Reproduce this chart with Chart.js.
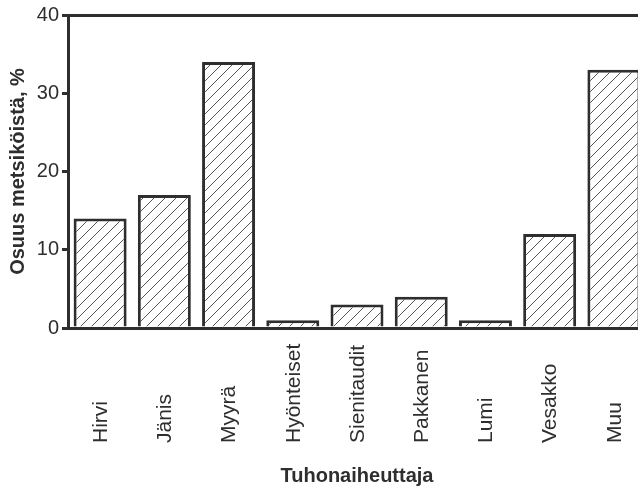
<!DOCTYPE html>
<html>
<head>
<meta charset="utf-8">
<script src="https://cdn.jsdelivr.net/npm/chart.js@4"></script>
<style>
html,body{margin:0;padding:0;background:#fff;overflow:hidden;width:638px;height:491px;}
canvas{display:block;}
</style>
</head>
<body>
<canvas id="c" width="646" height="491"></canvas>
<script>
const categories = ['Hirvi','Jänis','Myyrä','Hyönteiset','Sienitaudit','Pakkanen','Lumi','Vesakko','Muu'];
const values = [14, 17, 34, 1, 3, 4, 1, 12, 33];
const yTicks = [0, 10, 20, 30, 40];
const yTitle = 'Osuus metsiköistä, %';
const xTitle = 'Tuhonaiheuttaja';

const INK = '#2e2e2e';
const FONT = "'Liberation Sans', Arial, sans-serif";

function hatch() {
  const s = 11;
  const p = document.createElement('canvas');
  p.width = s; p.height = s;
  const g = p.getContext('2d');
  g.fillStyle = '#fff';
  g.fillRect(0, 0, s, s);
  g.strokeStyle = '#555';
  g.lineWidth = 1;
  g.beginPath();
  g.moveTo(0, s); g.lineTo(s, 0);
  g.moveTo(-2, 2); g.lineTo(2, -2);
  g.moveTo(s - 2, s + 2); g.lineTo(s + 2, s - 2);
  g.stroke();
  return document.getElementById('c').getContext('2d').createPattern(p, 'repeat');
}

const labelPlugin = {
  id: 'rotLabels',
  afterDraw(chart) {
    const ctx = chart.ctx;
    const xs = chart.scales.x;
    ctx.save();
    ctx.fillStyle = INK;
    ctx.font = "21px " + FONT;
    ctx.textAlign = 'left';
    ctx.textBaseline = 'middle';
    categories.forEach((lab, i) => {
      const x = xs.getPixelForValue(i);
      ctx.save();
      ctx.translate(x + 1, 443);
      ctx.rotate(-Math.PI / 2);
      ctx.fillText(lab, 0, 0);
      ctx.restore();
    });
    ctx.restore();
  }
};

new Chart(document.getElementById('c'), {
  type: 'bar',
  data: {
    labels: categories,
    datasets: [{
      data: values,
      backgroundColor: hatch(),
      borderColor: INK,
      borderWidth: 3,
      borderSkipped: 'bottom',
      barPercentage: 0.825,
      categoryPercentage: 1
    }]
  },
  options: {
    responsive: false,
    animation: false,
    layout: { padding: 0 },
    plugins: { legend: { display: false }, tooltip: { enabled: false } },
    scales: {
      x: {
        type: 'category',
        position: 'bottom',
        offset: true,
        grid: { display: false },
        border: { display: true, width: 3, color: INK },
        ticks: { display: false },
        title: {
          display: true, text: xTitle, color: INK,
          font: { family: FONT, size: 20, weight: 'bold' },
          padding: { top: 4, bottom: 3 }
        },
        afterFit(s) { s.height = 163; }
      },
      x2: {
        type: 'category',
        labels: categories,
        position: 'top',
        offset: true,
        grid: { display: false },
        border: { display: true, width: 3, color: INK },
        ticks: { display: false },
        afterFit(s) { s.height = 14; }
      },
      y: {
        min: 0, max: 40,
        afterBuildTicks(s) { s.ticks = yTicks.map(v => ({ value: v })); },
        grid: { drawOnChartArea: false, drawTicks: true, tickLength: 6, lineWidth: 3, color: INK },
        border: { display: true, width: 3, color: INK },
        ticks: {
          color: INK, padding: 3,
          font: { family: FONT, size: 20 }
        },
        title: {
          display: true, text: yTitle, color: INK,
          font: { family: FONT, size: 20, weight: 'bold' },
          padding: { top: 6, bottom: 4 }
        },
        afterFit(s) { s.width = 68; }
      }
    }
  },
  plugins: [labelPlugin]
});
</script>
</body>
</html>
